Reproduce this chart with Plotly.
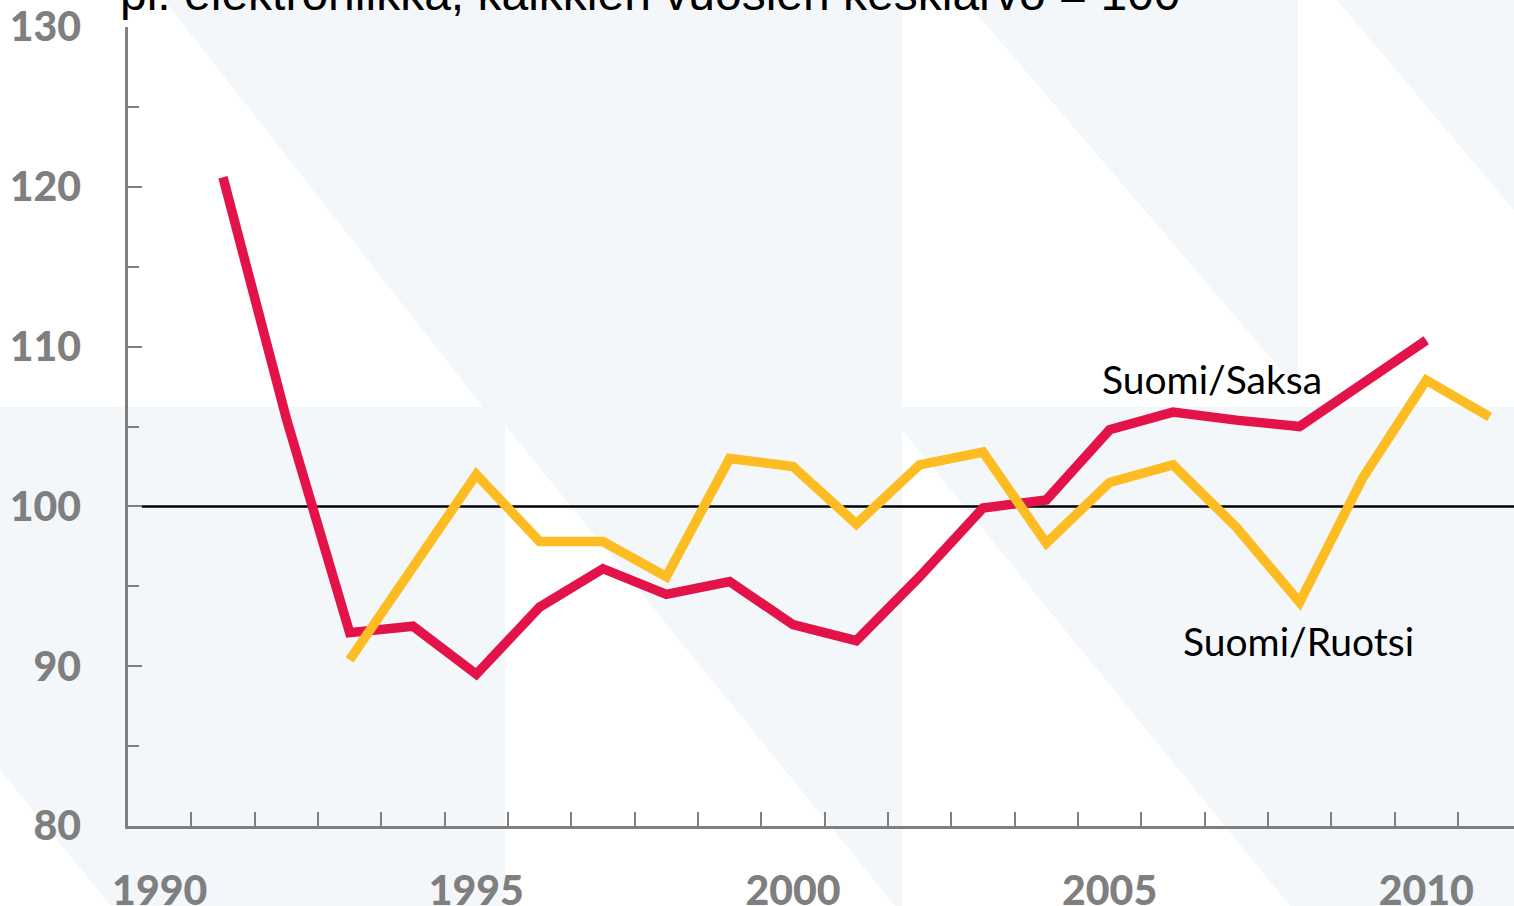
import plotly.graph_objects as go

# Suomi/Saksa, 1991-2010
saksa_years = list(range(1991, 2011))
saksa_values = [120.6, 105.5, 92.1, 92.5, 89.5, 93.7, 96.1, 94.5, 95.3, 92.6,
                91.6, 95.6, 99.9, 100.4, 104.8, 105.9, 105.4, 105.0, 107.7, 110.4]

# Suomi/Ruotsi, 1993-2011
ruotsi_years = list(range(1993, 2012))
ruotsi_values = [90.4, 96.2, 102.0, 97.8, 97.8, 95.6, 103.0, 102.5, 98.9, 102.6,
                 103.4, 97.7, 101.5, 102.6, 98.7, 94.0, 101.8, 107.9, 105.6]

x_label_years = [1990, 1995, 2000, 2005, 2010]
x_tick_pos = [y + 0.5 for y in range(1990, 2011)]
y_labels = [80, 90, 100, 110, 120, 130]

RED = "#E3134A"
YELLOW = "#FDBC21"
GREY = "#7F7F7F"
BG = "#F3F7FA"

W, H = 1514, 906
L, T, B = 128, 27, 80
PW, PH = W - L, H - T - B


def px(x, y):
    # pixel position -> paper coordinates
    return (x - L) / PW, (H - B - y) / PH


def poly(points):
    pts = [px(x, y) for x, y in points]
    return "M " + " L ".join(f"{a:.4f},{b:.4f}" for a, b in pts) + " Z"


# pale background tiles
white_tiles = [
    [(0, 0), (164, 0), (483, 407), (0, 407)],
    [(0, 770), (111, 906), (0, 906)],
    [(505, 425), (895, 906), (505, 906)],
    [(902, 0), (965, 0), (1298, 390), (1298, 407), (902, 407)],
    [(902, 430), (1290, 906), (902, 906)],
    [(1298, 0), (1337, 0), (1514, 210), (1514, 407), (1298, 407)],
]
shapes = [dict(type="path", path=poly(p), xref="paper", yref="paper",
               fillcolor="white", line=dict(width=0), layer="below")
          for p in white_tiles]

fig = go.Figure()
fig.add_trace(go.Scatter(x=saksa_years, y=saksa_values, mode="lines",
                         line=dict(color=RED, width=9.5), hoverinfo="skip"))
fig.add_trace(go.Scatter(x=ruotsi_years, y=ruotsi_values, mode="lines",
                         line=dict(color=YELLOW, width=9.5), hoverinfo="skip"))
fig.add_trace(go.Scatter(x=[x_label_years[0]], y=[80], xaxis="x2", mode="markers",
                         marker=dict(opacity=0), hoverinfo="skip"))

shapes.append(dict(type="line", xref="x domain", yref="y", x0=0.01, x1=1, y0=100, y1=100,
                   line=dict(color="black", width=2.5), layer="below"))

xrange = [1989.5, 1989.5 + PW / 63.33]
tick_font = dict(family="Lato", size=41, color=GREY, weight=900)

fig.update_layout(
    width=W, height=H,
    margin=dict(l=L, r=0, t=T, b=B),
    paper_bgcolor=BG,
    plot_bgcolor="rgba(0,0,0,0)",
    showlegend=False,
    shapes=shapes,
    xaxis=dict(range=xrange, tickvals=x_tick_pos, showticklabels=False,
               ticks="inside", ticklen=14, tickwidth=2, tickcolor=GREY,
               showline=True, linecolor=GREY, linewidth=2.5,
               showgrid=False, zeroline=False, automargin=False),
    xaxis2=dict(range=xrange, overlaying="x", side="bottom", matches="x",
                tickvals=x_label_years, ticks="", showline=False, showgrid=False,
                zeroline=False, ticklabelstandoff=37, tickfont=tick_font,
                automargin=False),
    yaxis=dict(range=[80, 130], tickvals=y_labels,
               ticks="inside", ticklen=14, tickwidth=2, tickcolor=GREY,
               minor=dict(dtick=5, tick0=80, ticks="inside", ticklen=11,
                          tickwidth=2, tickcolor=GREY),
               showline=True, linecolor=GREY, linewidth=2.5,
               showgrid=False, zeroline=False, ticklabelstandoff=36,
               tickfont=tick_font, automargin=False),
    annotations=[
        dict(text="pl. elektroniikka, kaikkien vuosien keskiarvo = 100",
             xref="paper", yref="paper", x=px(118, 0)[0], y=px(0, 22)[1],
             xanchor="left", yanchor="bottom", showarrow=False,
             font=dict(family="Liberation Sans", size=48, color="black")),
        dict(text="Suomi/Saksa", x=2006.62, y=108.0, showarrow=False,
             font=dict(family="Lato", size=39, color="black")),
        dict(text="Suomi/Ruotsi", x=2007.99, y=91.6, showarrow=False,
             font=dict(family="Lato", size=39, color="black")),
    ],
)

fig.write_html("out.html", config={"displayModeBar": False},
               post_script="document.body.style.margin='0';")
